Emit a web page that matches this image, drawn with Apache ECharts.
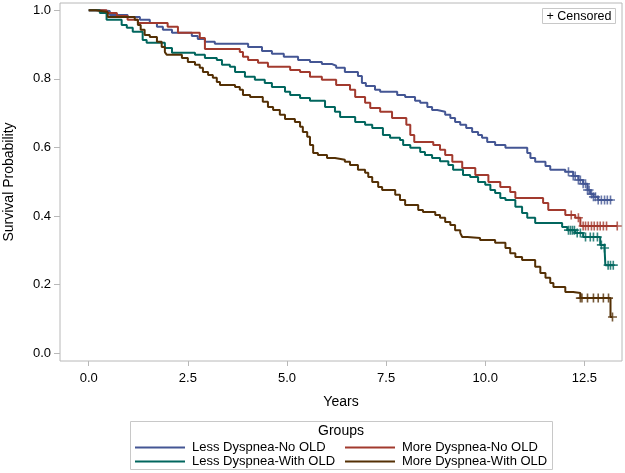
<!DOCTYPE html>
<html><head><meta charset="utf-8">
<script src="https://cdn.jsdelivr.net/npm/echarts@6/dist/echarts.min.js"></script>
<style>html,body{margin:0;padding:0;background:#fff}#c{width:625px;height:473px}</style>
</head><body><div id="c"></div>
<script>
// ---- data ----
const groupNames = ['Less Dyspnea-No OLD', 'More Dyspnea-No OLD', 'Less Dyspnea-With OLD', 'More Dyspnea-With OLD'];
const xTicks = [0, 2.5, 5, 7.5, 10, 12.5];
const yTicks = [0, 0.2, 0.4, 0.6, 0.8, 1.0];

const lessNoOldTimes = [0, 0.28, 0.53, 0.98, 1.29, 1.54, 1.72, 1.87, 2.10, 2.60, 2.75, 2.93, 3.18, 4.02, 4.37, 4.62, 4.92, 5.28, 5.58, 5.88, 6.14, 6.24, 6.46, 6.79, 6.89, 6.99, 7.22, 7.35, 7.78, 7.98, 8.23, 8.36, 8.54, 8.66, 8.79, 8.99, 9.12, 9.24, 9.37, 9.52, 9.67, 9.82, 9.92, 10.05, 10.25, 10.51, 11.06, 11.14, 11.26, 11.52, 11.64, 12.02, 12.22, 12.35, 12.47, 12.58, 12.65, 12.73, 12.85, 13.21];
const lessNoOldSurv = [1.0, 0.998, 0.986, 0.980, 0.972, 0.963, 0.952, 0.943, 0.934, 0.925, 0.916, 0.908, 0.902, 0.893, 0.881, 0.873, 0.864, 0.855, 0.849, 0.843, 0.838, 0.832, 0.820, 0.808, 0.788, 0.779, 0.768, 0.762, 0.753, 0.747, 0.736, 0.730, 0.718, 0.709, 0.704, 0.695, 0.686, 0.674, 0.666, 0.657, 0.645, 0.636, 0.628, 0.616, 0.607, 0.599, 0.584, 0.569, 0.558, 0.546, 0.535, 0.529, 0.517, 0.505, 0.494, 0.476, 0.464, 0.456, 0.447, 0.447];
const lessNoOldCensored = [12.10, 12.22, 12.27, 12.35, 12.40, 12.47, 12.53, 12.58, 12.62, 12.68, 12.73, 12.78, 12.85, 12.93, 13.01, 13.08, 13.16];

const moreNoOldTimes = [0, 0.45, 0.71, 0.98, 1.24, 1.99, 2.25, 2.80, 2.93, 3.81, 3.89, 4.02, 4.27, 4.52, 5.08, 5.33, 5.58, 5.88, 6.24, 6.59, 6.72, 6.97, 7.10, 7.35, 7.65, 8.01, 8.11, 8.21, 8.69, 8.86, 8.99, 9.17, 9.42, 9.75, 10.08, 10.38, 10.63, 10.76, 11.46, 11.59, 12.02, 12.27, 12.40, 13.33];
const moreNoOldSurv = [1.0, 0.992, 0.983, 0.972, 0.963, 0.952, 0.934, 0.919, 0.887, 0.878, 0.864, 0.855, 0.847, 0.835, 0.826, 0.820, 0.806, 0.797, 0.782, 0.768, 0.747, 0.730, 0.715, 0.704, 0.686, 0.666, 0.636, 0.616, 0.607, 0.593, 0.578, 0.558, 0.540, 0.520, 0.499, 0.485, 0.470, 0.453, 0.438, 0.418, 0.403, 0.395, 0.371, 0.371];
const moreNoOldCensored = [12.17, 12.35, 12.47, 12.53, 12.60, 12.68, 12.75, 12.83, 12.90, 12.98, 13.06, 13.33];

const lessWithOldTimes = [0, 0.28, 0.45, 0.83, 0.96, 1.11, 1.36, 1.46, 1.92, 2.10, 2.68, 2.93, 3.23, 3.36, 3.56, 3.69, 3.94, 4.19, 4.44, 4.62, 4.95, 5.08, 5.33, 5.58, 5.96, 6.21, 6.34, 6.72, 6.97, 7.15, 7.42, 7.60, 7.85, 7.93, 8.11, 8.36, 8.48, 8.66, 8.86, 9.07, 9.19, 9.44, 9.62, 9.82, 10.0, 10.13, 10.25, 10.38, 10.51, 10.76, 10.93, 11.06, 11.26, 11.94, 12.07, 12.27, 12.47, 12.90, 13.01, 13.03, 13.23];
const lessWithOldSurv = [1.0, 0.992, 0.972, 0.957, 0.949, 0.937, 0.913, 0.905, 0.890, 0.876, 0.870, 0.861, 0.855, 0.841, 0.835, 0.820, 0.806, 0.797, 0.788, 0.776, 0.762, 0.753, 0.744, 0.736, 0.718, 0.704, 0.689, 0.674, 0.666, 0.657, 0.636, 0.628, 0.622, 0.607, 0.599, 0.587, 0.578, 0.569, 0.560, 0.549, 0.535, 0.520, 0.514, 0.499, 0.491, 0.476, 0.467, 0.453, 0.447, 0.427, 0.409, 0.395, 0.380, 0.368, 0.359, 0.351, 0.339, 0.316, 0.307, 0.257, 0.257];
const lessWithOldCensored = [12.10, 12.15, 12.20, 12.25, 12.32, 12.40, 12.53, 12.65, 12.73, 12.83, 12.93, 13.01, 13.10, 13.16, 13.23];

const moreWithOldTimes = [0, 0.18, 0.48, 1.16, 1.24, 1.31, 1.41, 1.54, 1.72, 1.84, 1.92, 1.97, 2.35, 2.50, 2.68, 2.80, 2.88, 3.01, 3.13, 3.23, 3.31, 3.69, 3.81, 3.89, 4.07, 4.39, 4.52, 4.65, 4.82, 4.95, 5.20, 5.33, 5.40, 5.51, 5.58, 5.66, 5.78, 6.01, 6.21, 6.46, 6.59, 6.79, 6.97, 7.05, 7.15, 7.30, 7.40, 7.73, 7.85, 7.98, 8.31, 8.43, 8.74, 8.86, 8.99, 9.12, 9.24, 9.37, 9.42, 9.55, 9.87, 10.25, 10.51, 10.63, 10.76, 10.93, 11.26, 11.39, 11.52, 11.64, 11.72, 12.02, 12.22, 12.40, 13.16, 13.21];
const moreWithOldSurv = [1.0, 0.995, 0.980, 0.972, 0.957, 0.943, 0.928, 0.922, 0.908, 0.893, 0.878, 0.870, 0.861, 0.849, 0.841, 0.832, 0.820, 0.811, 0.803, 0.791, 0.782, 0.776, 0.768, 0.753, 0.747, 0.733, 0.718, 0.709, 0.695, 0.683, 0.674, 0.660, 0.645, 0.631, 0.607, 0.584, 0.578, 0.569, 0.564, 0.558, 0.549, 0.535, 0.526, 0.514, 0.499, 0.485, 0.476, 0.462, 0.447, 0.432, 0.418, 0.412, 0.403, 0.395, 0.383, 0.374, 0.359, 0.351, 0.339, 0.336, 0.330, 0.322, 0.307, 0.292, 0.281, 0.272, 0.252, 0.234, 0.220, 0.205, 0.193, 0.179, 0.176, 0.161, 0.106, 0.106];
const moreWithOldCensored = [12.40, 12.44, 12.58, 12.73, 12.85, 12.98, 13.11, 13.21];

// ---- chart ----
const colors = ['#445694', '#A23A2E', '#01665E', '#543005'];
const groups = [
  [lessNoOldTimes, lessNoOldSurv, lessNoOldCensored],
  [moreNoOldTimes, moreNoOldSurv, moreNoOldCensored],
  [lessWithOldTimes, lessWithOldSurv, lessWithOldCensored],
  [moreWithOldTimes, moreWithOldSurv, moreWithOldCensored]
];
function survAt(times, surv, t) {
  let v = surv[0];
  for (let i = 0; i < times.length; i++) { if (times[i] <= t + 1e-9) v = surv[i]; else break; }
  return v;
}
const plus = 'path://M4.1,0H5.9V4.1H10V5.9H5.9V10H4.1V5.9H0V4.1H4.1Z';
const FONT = 'Liberation Sans, Arial, sans-serif';
const series = [];
groups.forEach((g, k) => {
  series.push({
    type: 'line', name: groupNames[k], step: 'end', showSymbol: false, symbol: 'none',
    data: g[0].map((t, i) => [t, g[1][i]]),
    lineStyle: { width: 2, color: colors[k] }, itemStyle: { color: colors[k] },
    animation: false, z: 2
  });
});
groups.forEach((g, k) => {
  series.push({
    type: 'scatter', name: 'censored ' + k, symbol: plus, symbolSize: 9,
    data: g[2].map(t => [t, survAt(g[0], g[1], t)]),
    itemStyle: { color: colors[k] }, animation: false, z: 3
  });
});

// legend positions: [left, top] per group
const legendPos = [[135, 441], [345, 441], [135, 455], [345, 455]];
const legends = groupNames.map((n, k) => ({
  left: legendPos[k][0], top: legendPos[k][1], orient: 'horizontal', data: [n],
  itemWidth: 50, itemHeight: 2, icon: 'rect', selectedMode: false, padding: 0,
  textStyle: { fontSize: 13, color: '#000', fontFamily: FONT, padding: [0, 0, 0, 2] }
}));

const chart = echarts.init(document.getElementById('c'), null, { renderer: 'canvas' });
chart.setOption({
  animation: false,
  backgroundColor: '#fff',
  color: colors,
  grid: { left: 60, right: 3, top: 3, bottom: 112, containLabel: false, outerBoundsMode: 'none', show: true, borderColor: '#b8b8b8', borderWidth: 1, backgroundColor: 'transparent' },
  xAxis: {
    type: 'value', min: -0.725, max: 13.45,
    name: 'Years', nameLocation: 'middle', nameGap: 34,
    nameTextStyle: { fontSize: 14, color: '#000', fontFamily: FONT },
    axisLine: { show: false, onZero: false },
    axisTick: { show: true, length: 5, lineStyle: { color: '#b8b8b8' }, customValues: xTicks },
    axisLabel: { customValues: xTicks, margin: 11, fontSize: 13, color: '#000', fontFamily: FONT, formatter: v => v.toFixed(1) },
    splitLine: { show: false }
  },
  yAxis: {
    type: 'value', min: -0.0224, max: 1.021,
    name: 'Survival Probability', nameLocation: 'middle', nameGap: 44, nameRotate: 90,
    nameTextStyle: { fontSize: 14, color: '#000', fontFamily: FONT },
    axisLine: { show: false, onZero: false },
    axisTick: { show: true, length: 6, lineStyle: { color: '#b8b8b8' }, customValues: yTicks },
    axisLabel: { customValues: yTicks, margin: 9, fontSize: 13, color: '#000', fontFamily: FONT, formatter: v => v.toFixed(1) },
    splitLine: { show: false }
  },
  legend: legends,
  graphic: [
    { type: 'rect', shape: { x: 130.5, y: 421.5, width: 422, height: 48 }, style: { fill: 'none', stroke: '#c8c8c8', lineWidth: 1 } },
    { type: 'text', x: 341, y: 431, style: { text: 'Groups', fontSize: 14, fontFamily: FONT, fill: '#000', align: 'center', verticalAlign: 'middle' } },
    { type: 'rect', shape: { x: 542.5, y: 8.5, width: 73, height: 15 }, style: { fill: '#fff', stroke: '#c8c8c8', lineWidth: 1 }, z: 10 },
    { type: 'text', x: 579, y: 16.5, style: { text: '+ Censored', fontSize: 12.5, fontFamily: FONT, fill: '#000', align: 'center', verticalAlign: 'middle' }, z: 11 }
  ],
  series: series
});
</script>
</body></html>
